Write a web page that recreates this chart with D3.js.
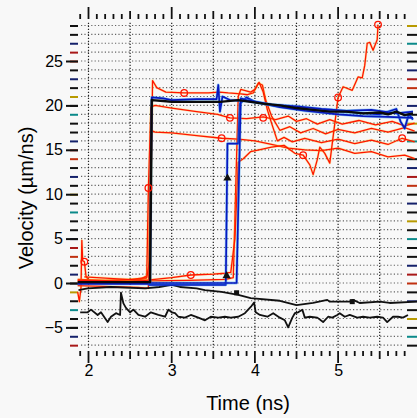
<!DOCTYPE html>
<html lang="en">
<head>
<meta charset="UTF-8">
<title>Velocity</title>
<script src="https://d3js.org/d3.v7.min.js"></script>
<style>
  * { margin: 0; padding: 0; }
  body { background: #f8f8f8; }
  svg { display: block; font-family: "Liberation Sans", Arial, sans-serif; }
</style>
</head>
<body>
<svg width="417" height="418"></svg>
<script>
// traces: [time (ns), velocity (um/ns)]
var blackStep = [[1.87,0.1],[2.74,0.1],[2.76,20.6],[2.9,20.5],[3.0,20.4],[3.3,20.4],[3.58,20.4],[3.8,20.6],[3.95,20.4],[4.1,20.2],[4.3,20.0],[4.5,19.7],[4.7,19.5],[4.9,19.3],[5.1,19.3],[5.3,19.1],[5.5,19.2],[5.6,19.0],[5.7,19.3],[5.8,18.9],[5.9,19.1]];
var blackDrift = [[1.88,-0.8],[1.99,-0.6],[2.27,-0.45],[2.68,-0.6],[2.85,-0.45],[3.0,-0.2],[3.1,-0.45],[3.3,-0.6],[3.4,-0.8],[3.6,-1.0],[3.8,-1.35],[3.95,-1.7],[4.3,-2.0],[4.5,-2.5],[4.7,-2.25],[4.87,-1.9],[4.9,-2.1],[5.14,-2.1],[5.18,-1.9],[5.26,-2.25],[5.5,-2.1],[5.62,-2.25],[5.95,-2.1]];
var blackNoise = [[1.90,-3.3],[1.99,-3.3],[2.03,-3.0],[2.11,-3.6],[2.15,-3.3],[2.23,-4.4],[2.27,-3.8],[2.33,-3.4],[2.38,-3.6],[2.39,-1.1],[2.42,-2.3],[2.45,-2.8],[2.50,-3.3],[2.54,-3.0],[2.60,-3.6],[2.68,-3.8],[2.75,-3.3],[2.84,-3.6],[2.92,-3.8],[2.96,-3.0],[3.00,-3.3],[3.04,-3.4],[3.08,-3.8],[3.16,-3.9],[3.23,-3.6],[3.32,-3.9],[3.40,-4.2],[3.47,-3.8],[3.56,-3.9],[3.64,-3.8],[3.71,-3.9],[3.80,-3.8],[3.88,-3.4],[3.95,-2.7],[3.99,-2.2],[4.01,-3.3],[4.06,-3.6],[4.15,-3.8],[4.22,-3.4],[4.30,-3.9],[4.36,-4.2],[4.40,-5.0],[4.45,-3.9],[4.48,-3.4],[4.52,-3.3],[4.57,-3.0],[4.60,-3.9],[4.66,-3.8],[4.75,-3.9],[4.82,-4.4],[4.88,-3.8],[4.93,-3.9],[4.99,-3.6],[5.02,-3.4],[5.08,-3.8],[5.14,-3.6],[5.23,-3.9],[5.30,-3.8],[5.38,-3.9],[5.47,-3.8],[5.54,-3.9],[5.59,-4.4],[5.66,-3.8],[5.72,-3.8],[5.78,-3.9],[5.84,-3.6]];

var blueEarly = [[1.87,-0.1],[2.74,-0.1],[2.76,20.9],[2.9,20.8],[3.0,20.6],[3.3,20.7],[3.54,20.7],[3.56,22.3],[3.58,19.3],[3.61,21.0],[3.7,20.6],[3.9,20.5],[4.1,20.2],[4.3,19.9],[4.6,19.5],[4.9,19.4],[5.2,19.2],[5.5,19.0],[5.7,19.6],[5.75,18.2],[5.8,17.4],[5.85,19.0],[5.9,18.4]];
var blueLate = [[2.72,-0.2],[3.65,-0.2],[3.67,15.7],[3.8,15.7],[3.82,20.2],[3.9,20.9],[4.0,20.4],[4.3,19.8],[4.6,19.4],[5.0,19.0],[5.3,18.8],[5.6,18.7],[5.9,18.6]];
var blueLast = [[2.72,0.0],[3.78,0.0],[3.83,20.8],[3.9,20.6],[4.2,20.1],[4.5,19.9],[4.8,19.6],[5.1,19.4],[5.4,19.5],[5.7,19.1],[5.9,19.3]];

var redTop = [[1.87,0.4],[2.2,0.3],[2.5,0.4],[2.7,0.6],[2.74,2.8],[2.77,22.8],[2.82,22.0],[2.93,21.5],[3.15,21.4],[3.44,21.4],[3.57,21.5],[3.68,21.4],[3.83,21.3],[3.91,21.2],[3.98,21.4],[4.04,22.5],[4.09,22.3],[4.13,20.6],[4.2,18.8],[4.3,17.2],[4.42,17.6],[4.55,16.9],[4.7,17.4],[4.85,16.8],[5.0,17.3],[5.2,16.9],[5.4,17.4],[5.6,17.0],[5.8,17.5],[5.92,17.1]];
var redMid = [[1.87,0.2],[2.3,0.1],[2.6,0.3],[2.7,0.8],[2.72,10.7],[2.75,19.8],[2.8,20.0],[3.0,19.7],[3.3,19.3],[3.55,19.0],[3.7,18.6],[3.9,18.5],[4.1,18.7],[4.25,18.4],[4.4,18.8],[4.5,18.2],[4.62,18.5],[4.75,17.9],[4.9,18.4],[5.05,17.9],[5.25,18.3],[5.45,17.8],[5.65,18.2],[5.8,17.7],[5.92,18.0]];
var redLow = [[1.87,-0.3],[2.6,-0.5],[2.72,-0.6],[2.75,17.2],[2.8,17.0],[3.0,16.9],[3.3,16.6],[3.6,16.3],[3.8,16.2],[4.0,16.0],[4.2,15.6],[4.4,15.2],[4.6,15.0],[4.8,14.9],[5.0,15.2],[5.2,14.6],[5.4,14.8],[5.6,14.2],[5.8,14.4],[5.92,14.0]];
var redLate = [[1.87,0.3],[2.5,0.2],[3.2,0.3],[3.65,0.4],[3.74,0.6],[3.8,21.0],[3.83,21.8],[3.95,21.5],[4.0,21.8],[4.05,22.6],[4.1,21.5],[4.15,19.5],[4.2,18.0],[4.27,16.0],[4.35,16.4],[4.45,15.9],[4.6,16.3],[4.8,15.8],[5.0,16.2],[5.2,15.7],[5.4,16.1],[5.6,15.6],[5.77,16.3],[5.92,15.9]];
var redRise = [[1.95,0.7],[2.3,0.5],[2.68,0.3],[3.0,0.6],[3.23,0.9],[3.5,1.0],[3.64,1.1],[3.71,1.2],[3.76,5.0],[3.8,13.6],[3.86,14.0],[3.95,14.8],[4.05,15.0],[4.2,15.3],[4.35,15.5],[4.48,14.6],[4.58,14.4],[4.66,13.3],[4.70,12.2],[4.75,13.9],[4.78,15.3],[4.84,14.6],[4.90,13.5],[5.00,20.9],[5.06,22.1],[5.17,21.7],[5.24,23.2],[5.29,23.1],[5.32,24.5],[5.35,27.0],[5.38,27.1],[5.42,26.2],[5.47,27.4],[5.48,29.1]];
var redSpike = [[1.87,-1.0],[1.89,-2.1],[1.91,-0.5],[1.92,4.8],[1.93,2.5],[1.95,2.4],[1.97,0.8],[2.0,0.3],[2.3,0.2],[2.6,0.4],[2.7,0.5]];

var redMarks = [[3.15,21.4],[3.70,18.6],[3.60,16.3],[5.00,20.9],[5.48,29.1],[1.95,2.4],[3.23,0.9],[2.72,10.7],[4.58,14.4],[5.77,16.3],[4.10,18.6]];
var blackMarks = [[3.78,-1.1],[5.17,-2.1]];
var blueMarks = [[3.67,11.8],[3.66,0.8]];

var yTickLabels = [-5, 0, 5, 10, 15, 20, 25];
var xTickLabels = [2, 3, 4, 5];

var svg = d3.select('svg');
var x = d3.scaleLinear().domain([2, 5]).range([88.5, 338.1]);
var y = d3.scaleLinear().domain([0, 25]).range([283, 61]);

var gridLeft = 81, gridRight = 404;
var tickColors = ['#a81818', '#14206a', '#111', '#111', '#0b8a8a', '#111', '#b89a00', '#111', '#14206a', '#111', '#c03010'];

// grid
var grid = svg.append('g');
grid.selectAll('.hg').data(d3.range(-7, 30)).enter().append('line')
  .attr('x1', gridLeft).attr('x2', gridRight)
  .attr('y1', function (d) { return y(d); }).attr('y2', function (d) { return y(d); })
  .attr('stroke', '#333').attr('stroke-width', 1.2).attr('stroke-dasharray', '1.2,2.2').attr('opacity', 0.75);
grid.selectAll('.vg').data(d3.range(2, 5.51, 0.5)).enter().append('line')
  .attr('x1', function (d) { return x(d); }).attr('x2', function (d) { return x(d); })
  .attr('y1', y(29.3)).attr('y2', y(-7.3))
  .attr('stroke', '#222').attr('stroke-width', 1.2).attr('stroke-dasharray', '1.3,1.7');

// y ticks, left and right
var minorY = svg.append('g').attr('transform', 'translate(78,0)')
  .call(d3.axisLeft(y).tickValues(d3.range(-7, 30)).tickSize(8).tickFormat(''));
minorY.selectAll('.tick line').attr('stroke-width', 2).attr('stroke', function (d, i) { return tickColors[i % tickColors.length]; });
var majorY = svg.append('g').attr('transform', 'translate(78,0)')
  .call(d3.axisLeft(y).tickValues(yTickLabels).tickSize(12).tickPadding(3));
majorY.selectAll('.tick line').attr('stroke-width', 2).attr('stroke', '#111');
majorY.selectAll('.tick text').attr('font-size', 16).attr('fill', '#000').attr('font-family', '"Liberation Sans", Arial, sans-serif');
var rightY = svg.append('g').attr('transform', 'translate(407,0)')
  .call(d3.axisRight(y).tickValues(d3.range(-7, 30)).tickSize(10).tickFormat(''));
rightY.selectAll('.tick line').attr('stroke-width', 2).attr('stroke', function (d, i) { return tickColors[(i + 3) % tickColors.length]; });

// x ticks, top and bottom
var tenths = d3.range(19, 59).map(function (d) { return d / 10; });
function tickLen(d, big, mid, small) {
  var k = Math.round(d * 10);
  return k % 10 === 0 ? big : (k % 5 === 0 ? mid : small);
}
[[19, -1], [351, 1]].forEach(function (p) {
  var g = svg.append('g').attr('transform', 'translate(0,' + p[0] + ')');
  g.selectAll('line').data(tenths).enter().append('line')
    .attr('x1', function (d) { return x(d); }).attr('x2', function (d) { return x(d); })
    .attr('y1', 0).attr('y2', function (d) { return p[1] * tickLen(d, 12, 8, 5); })
    .attr('stroke', '#111').attr('stroke-width', 1.8);
});
var bottomX = svg.append('g').attr('transform', 'translate(0,351)')
  .call(d3.axisBottom(x).tickValues(xTickLabels).tickSize(12).tickPadding(2).tickFormat(d3.format('d')));
bottomX.selectAll('.tick line').remove();
bottomX.selectAll('.tick text').attr('font-size', 16).attr('fill', '#000').attr('font-family', '"Liberation Sans", Arial, sans-serif');
svg.selectAll('.domain').remove();

// traces
var line = d3.line().x(function (d) { return x(d[0]); }).y(function (d) { return y(d[1]); });
var traces = svg.append('g').attr('fill', 'none').attr('stroke-linejoin', 'round');
function drawTrace(data, core, halo, w, op) {
  if (halo) {
    traces.append('path').attr('d', line(data)).attr('stroke', halo).attr('stroke-width', w + 1.2).attr('opacity', op);
  }
  traces.append('path').attr('d', line(data)).attr('stroke', core).attr('stroke-width', w);
}
[redSpike, redLow, redMid, redTop, redLate, redRise].forEach(function (d) { drawTrace(d, '#ff1500', '#ffc000', 1.3, 0.3); });
drawTrace(blackDrift, '#111', null, 1.8);
drawTrace(blackNoise, '#111', null, 1.8);
[blueEarly, blueLate, blueLast].forEach(function (d) { drawTrace(d, '#0818c0', '#2f9cf0', 1.7, 0.5); });
drawTrace(blackStep, '#0a0a0a', null, 2.4);

traces.selectAll('.rm').data(redMarks).enter().append('circle')
  .attr('cx', function (d) { return x(d[0]); }).attr('cy', function (d) { return y(d[1]); })
  .attr('r', 3.3).attr('stroke', '#ff1500').attr('stroke-width', 1.3);
traces.selectAll('.km').data(blackMarks).enter().append('rect')
  .attr('x', function (d) { return x(d[0]) - 2.5; }).attr('y', function (d) { return y(d[1]) - 2.5; })
  .attr('width', 5).attr('height', 5).attr('fill', '#111');
traces.selectAll('.bm').data(blueMarks).enter().append('path')
  .attr('d', d3.symbol().type(d3.symbolTriangle).size(30))
  .attr('transform', function (d) { return 'translate(' + x(d[0]) + ',' + y(d[1]) + ')'; })
  .attr('fill', '#111');

// axis titles
svg.append('text').attr('x', 248).attr('y', 410).attr('text-anchor', 'middle')
  .attr('font-size', 20).text('Time (ns)');
svg.append('text').attr('transform', 'translate(33,198) rotate(-90)').attr('text-anchor', 'middle')
  .attr('font-size', 20).text('Velocity (µm/ns)');
</script>
</body>
</html>
